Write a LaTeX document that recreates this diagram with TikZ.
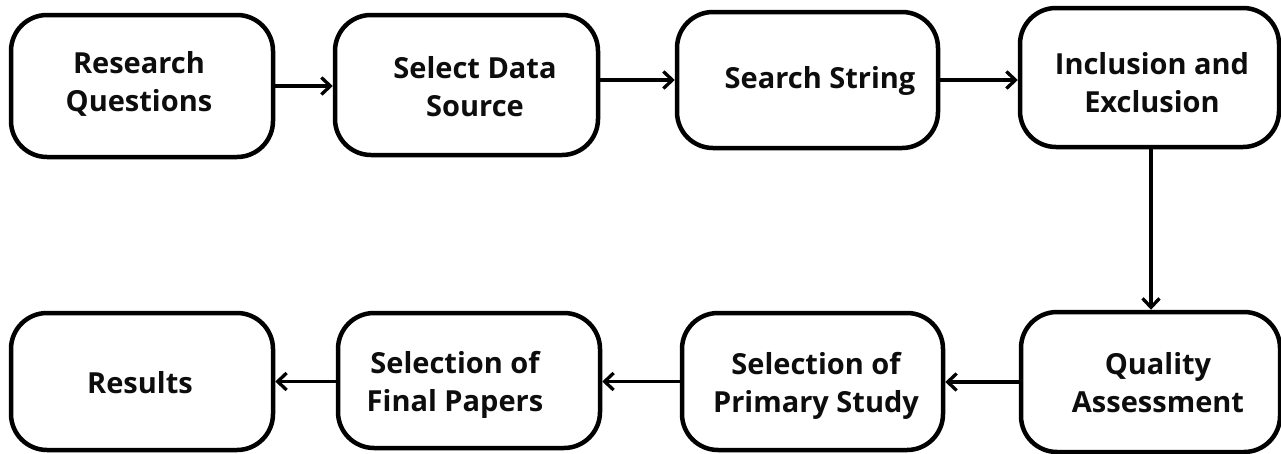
\documentclass[tikz,border=0pt]{standalone}
\usepackage{fontspec}
\setmainfont{Open Sans}
\usetikzlibrary{arrows.meta}

\tikzset{
  stage/.style={draw=black, line width=4.5pt, fill=white, rounded corners=36pt,
    minimum width=262pt, minimum height=140pt, inner sep=0pt},
  stagetext/.style={align=center, text=black!95, inner sep=0pt,
    font=\fontsize{29}{38}\selectfont\bfseries},
  flow/.style={line width=3.3pt, -{Straight Barb[length=9pt,width=17pt,line width=3.3pt]}}
}

\begin{document}
\begin{tikzpicture}[x=1pt,y=-1pt]
  % page area
  \fill[white] (0,0) rectangle (1281,453);
  \useasboundingbox (0,0) rectangle (1281,453);

  % top row boxes
  \node[stage, minimum height=142pt] (rq) at (142,86) {};
  \node[stage, minimum width=263pt] (sds) at (466.5,85) {};
  \node[stage, minimum width=261pt, minimum height=136pt] (ss) at (807.5,80) {};
  \node[stage, minimum width=259pt, minimum height=139pt] (ie) at (1149.5,77.5) {};

  % bottom row boxes
  \node[stage, minimum width=259pt] (qa) at (1150.5,382) {};
  \node[stage, minimum width=261pt, minimum height=137pt] (ps) at (812.5,381.5) {};
  \node[stage, minimum height=135pt] (fp) at (469,380.5) {};
  \node[stage, minimum height=137pt] (res) at (142,381.5) {};

  % box labels
  \node[stagetext] (rqt)  at (139,84)    {Research\\Questions};
  \node[stagetext] (sdst) at (475,87)    {Select Data\\Source};
  \node[stagetext] (sst)  at (820,80.5)  {Search String};
  \node[stagetext] (iet)  at (1152,83)   {Inclusion and\\Exclusion};
  \node[stagetext] (qat)  at (1158,382.5){Quality\\Assessment};
  \node[stagetext] (pst)  at (816,386)   {Selection of\\Primary Study};
  \node[stagetext] (fpt)  at (455,385)   {Selection of\\Final Papers};
  \node[stagetext] (rest) at (140,382.5) {Results};

  % connectors
  \draw[flow] (rq.east) -- (sds.west |- rq.east);
  \draw[flow] (sds.east |- ss.west) -- (ss.west);
  \draw[flow] (ss.east) -- (ie.west |- ss.east);
  \draw[flow] (ie.south -| 1151,0) -- (qa.north -| 1151,0);
  \draw[flow] (qa.west) -- (ps.east |- qa.west);
  \draw[flow] (ps.west) -- (fp.east |- ps.west);
  \draw[flow] (fp.west |- res.east) -- (res.east);
\end{tikzpicture}
\end{document}
